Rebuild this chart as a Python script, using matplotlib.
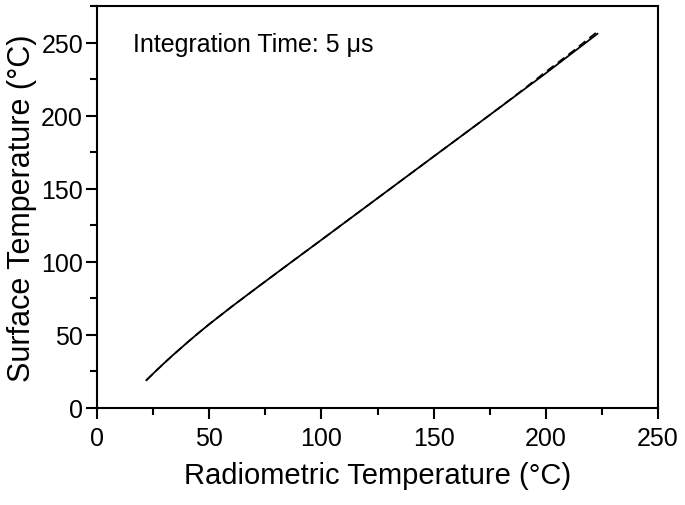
import numpy as np
import matplotlib
matplotlib.use('Agg')
import matplotlib.pyplot as plt
from matplotlib.ticker import MultipleLocator

plt.rcParams['font.family'] = ['Liberation Sans', 'DejaVu Sans']

radiometric = [22, 26, 30, 34, 40, 45, 50, 60, 71, 85, 100, 125, 150, 172, 200, 223]
surface = [19, 25, 30.8, 36.4, 44.5, 51, 57.3, 69.3, 82, 98, 115, 143.5, 172, 197, 229, 256]
radiometric_b = [22, 26, 30, 34, 40, 45, 50, 60, 71, 85, 100, 125, 150, 172, 185, 200, 212, 223]
surface_b = [19, 25, 30.8, 36.4, 44.5, 51, 57.3, 69.3, 82, 98, 115, 143.5, 172, 197, 212, 230, 244, 257.5]

fig = plt.figure(figsize=(6.85, 5.06), dpi=100)
ax = fig.add_axes([0.1416, 0.1917, 0.819, 0.7945])

ax.plot(radiometric_b, surface_b, color='black', lw=1.2, ls=(0, (5, 3)))
ax.plot(radiometric, surface, color='black', lw=1.3)

ax.set_xlim(0, 250)
ax.set_ylim(0, 275)
ax.xaxis.set_major_locator(MultipleLocator(50))
ax.xaxis.set_minor_locator(MultipleLocator(25))
ax.yaxis.set_major_locator(MultipleLocator(50))
ax.yaxis.set_minor_locator(MultipleLocator(25))
ax.tick_params(which='major', direction='out', length=8, width=1.5, labelsize=18, pad=5)
ax.tick_params(axis='y', which='major', pad=2)
ax.tick_params(which='minor', direction='out', length=5, width=1.5)
for s in ax.spines.values():
    s.set_linewidth(1.5)

ax.set_xlabel('Radiometric Temperature (°C)', fontsize=21, labelpad=8)
ax.set_ylabel('Surface Temperature (°C)', fontsize=22, labelpad=3)
ax.text(0.064, 0.905, 'Integration Time: 5 μs', transform=ax.transAxes, fontsize=18,
        va='center', ha='left')

fig.savefig('out.png', dpi=100)
